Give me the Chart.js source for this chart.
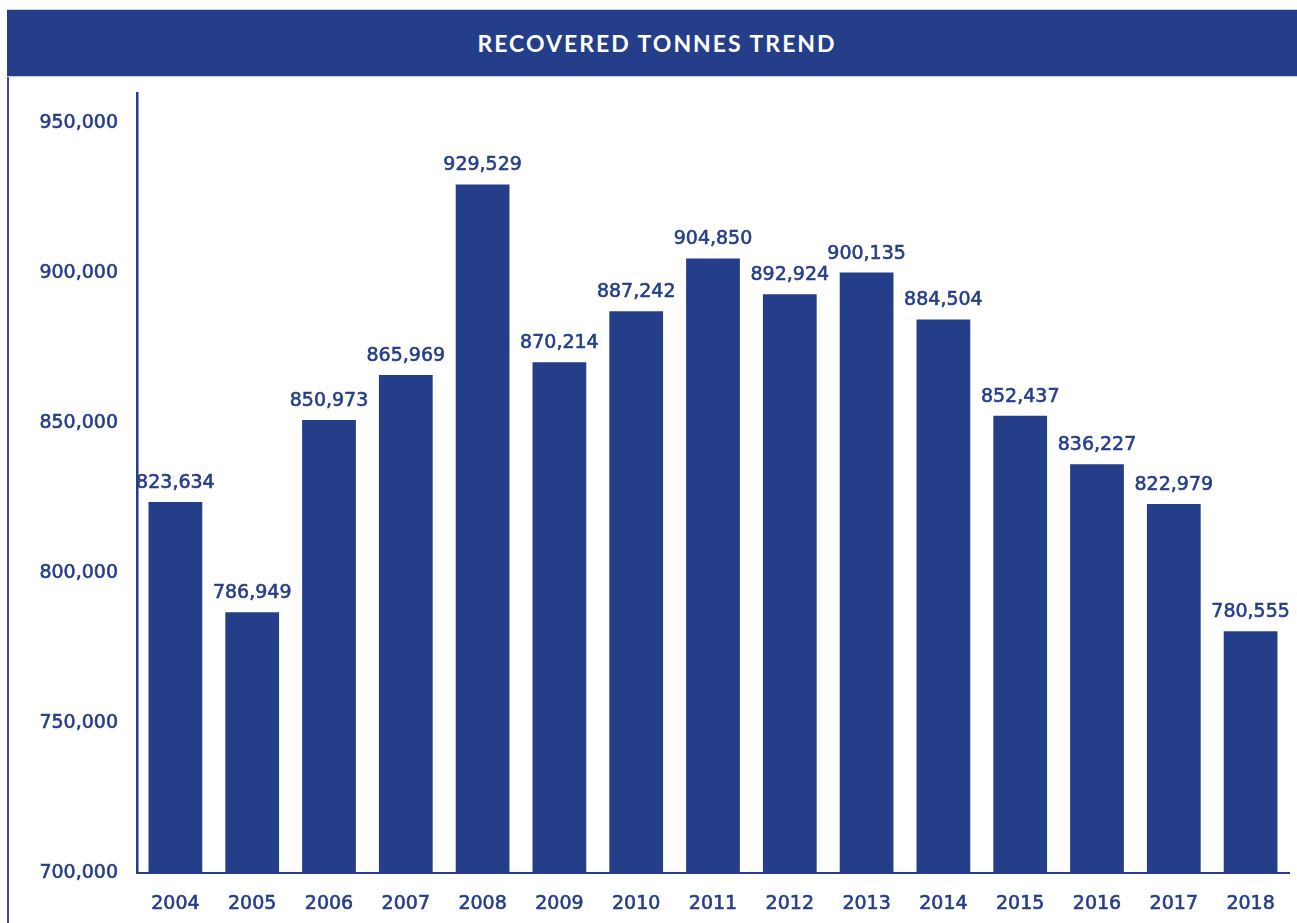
<!DOCTYPE html>
<html>
<head>
<meta charset="utf-8">
<title>Recovered Tonnes Trend</title>
<script src="https://cdn.jsdelivr.net/npm/chart.js@4/dist/chart.umd.min.js"></script>
<style>
    html, body { margin: 0; padding: 0; background: #fff; }
    #wrap { position: relative; width: 1297px; height: 923px; overflow: hidden; }
    #header {
        position: absolute; left: 7px; top: 9px; width: 1290px; height: 68px;
        background: #253e8a; border-top: 1px solid #c9cfe3; border-bottom: 1px solid #c9cfe3;
        box-sizing: border-box;
        color: #fff; font-family: "Lato", sans-serif; font-weight: 700; font-size: 23px;
        letter-spacing: 2px;
        display: flex; align-items: center; justify-content: center; padding-left: 10px;
    }
    #leftRule { position: absolute; left: 7px; top: 77px; width: 2px; height: 846px; background: #3b4f96; }
    #chart { position: absolute; left: 0; top: 0; }
</style>
</head>
<body>
<div id="wrap">
    <canvas id="chart" width="1297" height="923"></canvas>
    <div id="leftRule"></div>
    <div id="header">RECOVERED TONNES TREND</div>
</div>
<script>
// Recovered tonnes per year
const years = ['2004', '2005', '2006', '2007', '2008', '2009', '2010', '2011', '2012', '2013', '2014', '2015', '2016', '2017', '2018'];
const tonnes = [823634, 786949, 850973, 865969, 929529, 870214, 887242, 904850, 892924, 900135, 884504, 852437, 836227, 822979, 780555];
const yTicks = [700000, 750000, 800000, 850000, 900000, 950000];

const navy = '#253e8a';
const labelFont = { family: '"DejaVu Sans", sans-serif', size: 19 };
const strokeW = 0.6; // thickens the regular face a little

// Value labels above each bar
const valueLabels = {
    id: 'valueLabels',
    afterDatasetsDraw(chart) {
        const ctx = chart.ctx;
        const meta = chart.getDatasetMeta(0);
        ctx.save();
        ctx.fillStyle = navy;
        ctx.strokeStyle = navy;
        ctx.lineWidth = strokeW;
        ctx.font = labelFont.size + 'px ' + labelFont.family;
        ctx.textAlign = 'center';
        ctx.textBaseline = 'middle';
        meta.data.forEach((bar, i) => {
            const txt = tonnes[i].toLocaleString('en-US');
            ctx.strokeText(txt, bar.x, bar.y - 19);
            ctx.fillText(txt, bar.x, bar.y - 19);
        });
        ctx.restore();
    }
};

new Chart(document.getElementById('chart'), {
    type: 'bar',
    data: {
        labels: years,
        datasets: [{
            data: tonnes,
            backgroundColor: navy,
            borderWidth: 0,
            barPercentage: 0.7,
            categoryPercentage: 1.0
        }]
    },
    options: {
        responsive: false,
        animation: false,
        layout: { padding: { top: 93, right: 8, bottom: 0, left: 0 } },
        plugins: {
            legend: { display: false },
            tooltip: { enabled: false }
        },
        scales: {
            x: {
                grid: { display: false, drawTicks: false },
                border: { display: true, color: navy, width: 2 },
                ticks: {
                    color: navy, font: labelFont, padding: 20, maxRotation: 0,
                    textStrokeColor: navy, textStrokeWidth: strokeW
                },
                afterFit(scale) { scale.height = 50; }
            },
            y: {
                min: 700000,
                max: 960000,
                grid: { display: false, drawTicks: false },
                border: { display: true, color: navy, width: 2.5 },
                ticks: {
                    color: navy,
                    font: labelFont,
                    padding: 19,
                    textStrokeColor: navy,
                    textStrokeWidth: strokeW,
                    callback: v => v.toLocaleString('en-US')
                },
                afterBuildTicks(scale) { scale.ticks = yTicks.map(v => ({ value: v })); },
                afterFit(scale) { scale.width = 137; }
            }
        }
    },
    plugins: [valueLabels]
});
</script>
</body>
</html>
